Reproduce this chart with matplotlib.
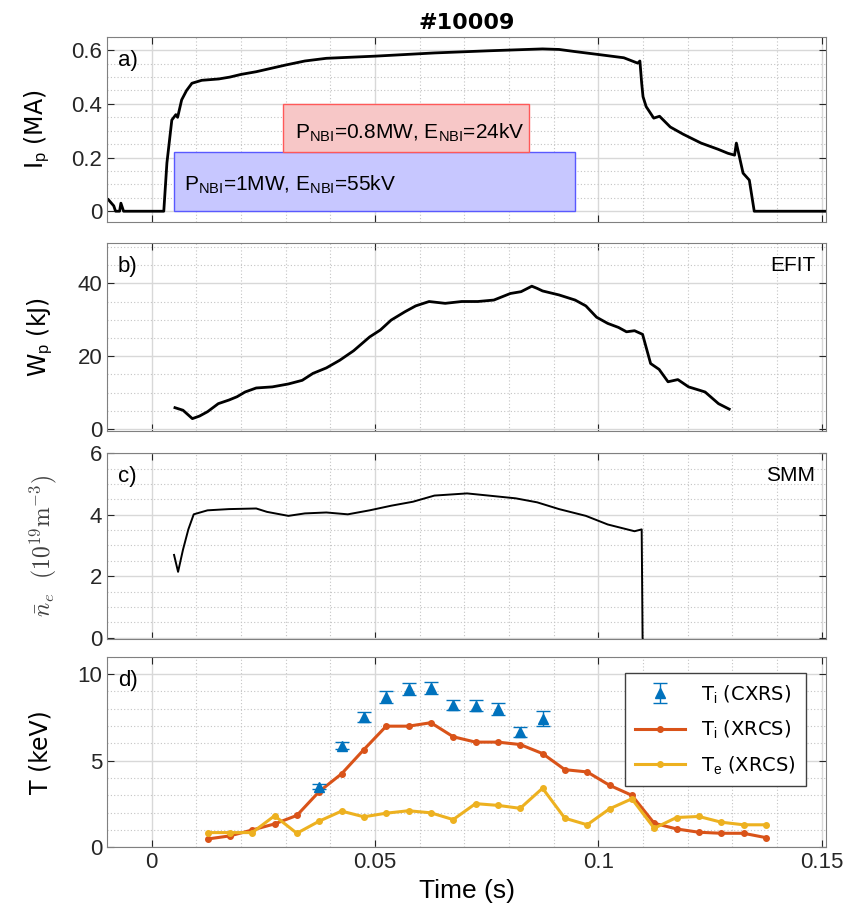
import matplotlib
matplotlib.use('Agg')
import matplotlib.pyplot as plt
from matplotlib.ticker import MultipleLocator, FuncFormatter
from matplotlib.patches import Rectangle

plt.rcParams['font.family'] = ['Liberation Sans', 'DejaVu Sans']
plt.rcParams['mathtext.fontset'] = 'custom'
plt.rcParams['mathtext.rm'] = 'Liberation Sans'
plt.rcParams['mathtext.it'] = 'Liberation Sans:italic'

#%% Data

# a) plasma current
ip_t = [-0.0097, -0.0085, -0.0081, -0.0072, -0.0069, -0.0063, 0.0027, 0.0034,
        0.0045, 0.0054, 0.0058, 0.0067, 0.0078, 0.0090, 0.0112, 0.0150, 0.0175,
        0.0200, 0.0234, 0.0300, 0.0343, 0.0391, 0.0500, 0.0633, 0.0754, 0.0875,
        0.0912, 0.0948, 0.0996, 0.1057, 0.1088, 0.1093, 0.1097, 0.1100, 0.1107,
        0.1124, 0.1137, 0.1161, 0.1190, 0.1230, 0.1268, 0.1290, 0.1305, 0.1309,
        0.1324, 0.1338, 0.1349, 0.1520]
ip = [0.043, 0.02, 0.0, 0.0, 0.03, 0.0, 0.0, 0.18,
      0.34, 0.36, 0.35, 0.415, 0.45, 0.477, 0.488, 0.493, 0.50,
      0.51, 0.52, 0.545, 0.56, 0.57, 0.578, 0.59, 0.598, 0.605,
      0.603, 0.595, 0.585, 0.572, 0.552, 0.56, 0.477, 0.427, 0.39,
      0.347, 0.354, 0.314, 0.287, 0.254, 0.231, 0.216, 0.209, 0.254,
      0.142, 0.116, 0.0, 0.0]

# NBI windows: (start, end, bottom, top)
nbi1 = (0.0050, 0.0948, 0.0, 0.221)
nbi2 = (0.0295, 0.0845, 0.221, 0.40)

# b) stored energy (EFIT)
wp_t = [0.0052, 0.0070, 0.0091, 0.0107, 0.0125, 0.0149, 0.0173, 0.0191, 0.0209, 0.0234,
        0.0270, 0.0306, 0.0337, 0.0361, 0.0391, 0.0421, 0.0452, 0.0488, 0.0512, 0.0536,
        0.0567, 0.0591, 0.0621, 0.0657, 0.0694, 0.0730, 0.0766, 0.0803, 0.0827, 0.0851,
        0.0863, 0.0875, 0.0912, 0.0948, 0.0972, 0.0996, 0.1021, 0.1045, 0.1063, 0.1081,
        0.1099, 0.1117, 0.1136, 0.1156, 0.1178, 0.1202, 0.1226, 0.1239, 0.1269, 0.1293]
wp = [5.9, 5.2, 2.9, 3.6, 4.8, 7.0, 8.0, 8.9, 10.2, 11.3,
      11.6, 12.4, 13.4, 15.3, 16.8, 18.9, 21.5, 25.3, 27.2, 29.9,
      32.2, 33.8, 35.0, 34.5, 35.0, 35.0, 35.4, 37.2, 37.7, 39.2,
      38.6, 37.9, 36.8, 35.4, 33.8, 30.7, 29.0, 27.9, 26.7, 27.0,
      26.0, 18.0, 16.4, 13.0, 13.6, 11.6, 10.7, 10.2, 7.0, 5.5]

# c) line averaged density (SMM)
ne_t = [0.0050, 0.0059, 0.0070, 0.0082, 0.0094, 0.0125, 0.0173, 0.0234, 0.0258, 0.0306,
        0.0343, 0.0391, 0.0439, 0.0488, 0.0536, 0.0585, 0.0633, 0.0706, 0.0754, 0.0815,
        0.0863, 0.0912, 0.0972, 0.1021, 0.1081, 0.1097, 0.1099, 0.1102]
ne = [2.69, 2.14, 2.86, 3.52, 4.01, 4.14, 4.18, 4.20, 4.09, 3.96,
      4.04, 4.07, 4.01, 4.14, 4.29, 4.42, 4.62, 4.69, 4.62, 4.53,
      4.40, 4.18, 3.96, 3.68, 3.46, 3.52, 0.0, -0.3]

# d) temperatures
xrcs_t = [0.0125, 0.0175, 0.0225, 0.0275, 0.0325, 0.0375, 0.0425, 0.0475, 0.0525,
          0.0575, 0.0625, 0.0675, 0.0725, 0.0775, 0.0825, 0.0875, 0.0925, 0.0975,
          0.1025, 0.1075, 0.1125, 0.1175, 0.1225, 0.1275, 0.1325, 0.1375]
ti_xrcs = [0.48, 0.66, 1.0, 1.35, 1.84, 3.22, 4.24, 5.64, 6.99,
           6.99, 7.19, 6.38, 6.07, 6.07, 5.93, 5.41, 4.48, 4.35,
           3.58, 3.0, 1.39, 1.06, 0.87, 0.81, 0.81, 0.56]
te_xrcs = [0.85, 0.85, 0.85, 1.82, 0.81, 1.51, 2.09, 1.76, 1.97,
           2.11, 1.99, 1.60, 2.52, 2.42, 2.25, 3.41, 1.68, 1.30,
           2.22, 2.80, 1.10, 1.72, 1.78, 1.45, 1.30, 1.30]

cxrs_t = [0.0375, 0.0425, 0.0475, 0.0525, 0.0575, 0.0625, 0.0675, 0.0725, 0.0775, 0.0825, 0.0875]
ti_cxrs = [3.50, 5.87, 7.50, 8.66, 9.13, 9.19, 8.20, 8.18, 7.96, 6.65, 7.43]
ti_cxrs_err = [0.15, 0.20, 0.28, 0.35, 0.35, 0.35, 0.29, 0.30, 0.34, 0.27, 0.44]

#%% Figure

fig = plt.figure(figsize=(8.43, 9.21), dpi=100)
left, width = 0.127, 0.853
ax_a = fig.add_axes([left, 0.759, width, 0.201])
ax_b = fig.add_axes([left, 0.532, width, 0.204])
ax_c = fig.add_axes([left, 0.306, width, 0.202])
ax_d = fig.add_axes([left, 0.080, width, 0.207])
axes = [ax_a, ax_b, ax_c, ax_d]

fmt = FuncFormatter(lambda v, p: '{:g}'.format(round(v, 6)))
axcol = '#262626'
for ax in axes:
    ax.set_xlim(-0.01, 0.151)
    ax.xaxis.set_major_locator(MultipleLocator(0.05))
    ax.xaxis.set_minor_locator(MultipleLocator(0.01))
    ax.xaxis.set_major_formatter(fmt)
    ax.yaxis.set_major_formatter(fmt)
    ax.grid(which='major', color='#d8d8d8', lw=1.0)
    ax.grid(which='minor', color='#c4c4c4', lw=0.8, ls=(0, (1, 2)))
    ax.set_axisbelow(True)
    ax.tick_params(which='both', direction='in', top=True, right=True,
                   labelsize=16, colors=axcol)
    ax.tick_params(which='minor', length=0)
    ax.tick_params(which='major', length=5)
    for s in ax.spines.values():
        s.set_color('#808080')
    if ax is not ax_d:
        ax.tick_params(labelbottom=False)

# a)
ax_a.plot(ip_t, ip, 'k-', lw=2)
ax_a.add_patch(Rectangle((nbi1[0], nbi1[2]), nbi1[1] - nbi1[0], nbi1[3] - nbi1[2],
                         fc=(0.78, 0.78, 1.0), ec=(0.35, 0.35, 1.0), lw=1, zorder=3))
ax_a.add_patch(Rectangle((nbi2[0], nbi2[2]), nbi2[1] - nbi2[0], nbi2[3] - nbi2[2],
                         fc=(0.97, 0.78, 0.78), ec=(1.0, 0.35, 0.35), lw=1, zorder=3))
ax_a.text(0.0072, 0.075, r'P$_{\mathrm{NBI}}$=1MW, E$_{\mathrm{NBI}}$=55kV',
          fontsize=15, zorder=4, color='k')
ax_a.text(0.032, 0.27, r'P$_{\mathrm{NBI}}$=0.8MW, E$_{\mathrm{NBI}}$=24kV',
          fontsize=15, zorder=4, color='k')
ax_a.set_ylim(-0.04, 0.65)
ax_a.yaxis.set_major_locator(MultipleLocator(0.2))
ax_a.yaxis.set_minor_locator(MultipleLocator(0.05))
ax_a.set_ylabel(r'I$_\mathrm{p}$ (MA)', fontsize=17, family='DejaVu Sans', labelpad=14)
ax_a.set_title('#10009', fontsize=16, fontweight='bold', family='DejaVu Sans', pad=6)

# b)
ax_b.plot(wp_t, wp, 'k-', lw=2)
ax_b.set_ylim(-0.5, 51)
ax_b.yaxis.set_major_locator(MultipleLocator(20))
ax_b.yaxis.set_minor_locator(MultipleLocator(5))
ax_b.set_ylabel(r'W$_\mathrm{p}$ (kJ)', fontsize=17, family='DejaVu Sans', labelpad=16)
ax_b.text(0.985, 0.93, 'EFIT', transform=ax_b.transAxes, ha='right', va='top', fontsize=15)

# c)
ax_c.plot(ne_t, ne, 'k-', lw=1.4)
ax_c.set_ylim(-0.05, 6.0)
ax_c.yaxis.set_major_locator(MultipleLocator(2))
ax_c.yaxis.set_minor_locator(MultipleLocator(0.5))
ax_c.set_ylabel(r'$\bar{n}_e\ \ (10^{19}\mathrm{m}^{-3})$', fontsize=17, labelpad=22,
                color='#404040', math_fontfamily='cm')
ax_c.text(0.985, 0.93, 'SMM', transform=ax_c.transAxes, ha='right', va='top', fontsize=15)

# d)
eb = ax_d.errorbar(cxrs_t, ti_cxrs, yerr=ti_cxrs_err, fmt='^', color='#0072BD', ms=7,
                   elinewidth=1, capsize=5, capthick=1, zorder=4)
l1, = ax_d.plot(xrcs_t, ti_xrcs, '-o', color='#D95319', lw=2.2, ms=4)
l2, = ax_d.plot(xrcs_t, te_xrcs, '-o', color='#EDB120', lw=2.2, ms=4)
ax_d.set_ylim(0, 11)
ax_d.yaxis.set_major_locator(MultipleLocator(5))
ax_d.yaxis.set_minor_locator(MultipleLocator(1))
ax_d.set_ylabel('T (keV)', fontsize=17, family='DejaVu Sans', labelpad=18)
ax_d.set_xlabel('Time (s)', fontsize=19, labelpad=4)
leg = ax_d.legend([eb, l1, l2],
                  [r'T$_\mathrm{i}$ (CXRS)', r'T$_\mathrm{i}$ (XRCS)', r'T$_\mathrm{e}$ (XRCS)'],
                  loc='upper right', frameon=True, fancybox=False,
                  edgecolor='#404040', framealpha=1, prop={'family': 'DejaVu Sans', 'size': 14},
                  bbox_to_anchor=(0.985, 0.965), handlelength=2.6, borderpad=0.5,
                  labelspacing=0.7)
leg.get_frame().set_linewidth(1)

labels = ['a)', 'b)', 'c)', 'd)']
for ax, lab in zip(axes, labels):
    ax.text(0.015, 0.93, lab, transform=ax.transAxes, ha='left', va='top', fontsize=16)

fig.savefig('out.png', dpi=100)
